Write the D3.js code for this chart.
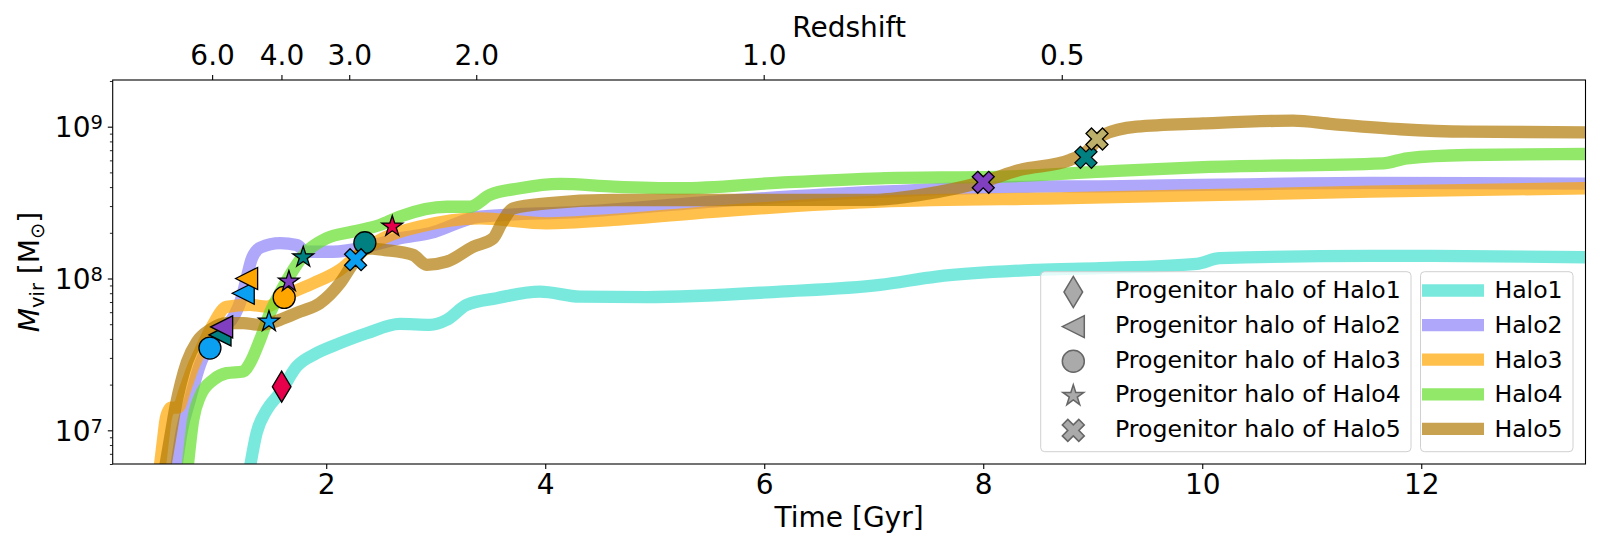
<!DOCTYPE html>
<html>
<head>
<meta charset="utf-8">
<script src="https://cdn.jsdelivr.net/npm/d3@7"></script>
<style>
body { margin: 0; background: #fff; }
text { font-family: "DejaVu Sans", sans-serif; fill: #000; }
</style>
</head>
<body>
<div id="chart"></div>
<script>
// Mass accretion histories: [time (Gyr), Mvir (Msun)]
const halo1 = [[1.29,5e6],[1.364,9.6e6],[1.456,1.36e7],[1.577,1.76e7],[1.73,2.63e7],[1.912,3.22e7],[2.125,3.75e7],[2.369,4.36e7],[2.673,5.02e7],[2.947,4.95e7],[3.10,5.34e7],[3.282,6.7e7],[3.556,7.42e7],[3.952,8.2e7],[4.317,7.6e7],[4.926,7.54e7],[6.143,8.2e7],[7.056,9.08e7],[7.574,1.03e8],[8.488,1.14e8],[9.066,1.17e8],[9.949,1.25e8],[10.16,1.36e8],[11.53,1.41e8],[12.11,1.41e8],[13.5,1.38e8]];
const halo2 = [[0.62,5e6],[0.682,1.0e7],[0.755,1.59e7],[0.847,2.7e7],[0.938,3.66e7],[1.047,4.59e7],[1.166,5.8e7],[1.215,7.0e7],[1.245,8.3e7],[1.275,1.02e8],[1.32,1.35e8],[1.40,1.6e8],[1.578,1.71e8],[1.73,1.66e8],[1.821,1.50e8],[2.064,1.50e8],[2.369,1.62e8],[2.673,1.84e8],[2.947,1.99e8],[3.404,2.56e8],[4.317,2.75e8],[5.532,3.21e8],[7.057,3.73e8],[8.488,4.03e8],[9.066,4.05e8],[11.53,4.26e8],[13.5,4.22e8]];
const halo3 = [[0.47,5e6],[0.509,8.6e6],[0.536,1.21e7],[0.582,1.41e7],[0.646,1.41e7],[0.71,1.85e7],[0.783,2.6e7],[0.847,3.3e7],[0.965,4.95e7],[1.09,6.5e7],[1.303,6.7e7],[1.456,6.53e7],[1.638,7.8e7],[1.881,9.3e7],[2.125,1.14e8],[2.308,1.47e8],[2.521,1.84e8],[2.856,2.2e8],[3.404,2.49e8],[4.013,2.31e8],[4.621,2.43e8],[5.532,2.75e8],[7.057,3.21e8],[8.792,3.38e8],[11.53,3.73e8],[13.5,3.93e8]];
const halo4 = [[0.727,5e6],[0.785,1.17e7],[0.847,1.67e7],[0.968,2.15e7],[1.09,2.38e7],[1.242,2.44e7],[1.303,2.77e7],[1.395,3.94e7],[1.486,5.91e7],[1.577,8.0e7],[1.699,1.14e8],[1.821,1.50e8],[2.004,1.84e8],[2.247,2.04e8],[2.49,2.25e8],[2.673,2.56e8],[3.10,2.97e8],[3.312,2.97e8],[3.495,3.55e8],[3.769,3.93e8],[4.134,4.2e8],[4.621,4.03e8],[5.23,3.93e8],[6.143,4.28e8],[7.057,4.57e8],[8.18,4.69e8],[9.093,5.06e8],[10.006,5.41e8],[11.65,5.74e8],[11.87,6.19e8],[12.42,6.51e8],[13.5,6.61e8]];
const halo5 = [[0.515,5e6],[0.582,9.6e6],[0.627,1.47e7],[0.673,2.06e7],[0.728,2.82e7],[0.819,3.83e7],[0.938,4.59e7],[1.09,5.08e7],[1.242,5.08e7],[1.395,4.95e7],[1.577,5.34e7],[1.76,6.05e7],[1.942,6.88e7],[2.125,9.3e7],[2.247,1.26e8],[2.369,1.58e8],[2.536,1.54e8],[2.792,1.43e8],[2.917,1.23e8],[3.10,1.29e8],[3.342,1.62e8],[3.525,1.84e8],[3.602,2.31e8],[3.708,2.9e8],[4.013,3.13e8],[4.621,3.29e8],[5.534,3.29e8],[7.0,3.3e8],[7.42,3.55e8],[8.0,4.35e8],[8.335,5.19e8],[8.792,6.04e8],[8.944,6.85e8],[9.093,8.82e8],[9.401,1.0e9],[10.006,1.05e9],[10.828,1.095e9],[11.19,1.04e9],[11.806,9.62e8],[12.417,9.27e8],[13.5,9.18e8]];

const haloNames = ['Halo1', 'Halo2', 'Halo3', 'Halo4', 'Halo5'];
const haloSeries = [halo1, halo2, halo3, halo4, halo5];

// Progenitor halos: [time (Gyr), Mvir (Msun), group id]
const prog1 = [[1.593,1.94e7,1]];
const prog2 = [[1.03,4.25e7,2],[1.045,4.8e7,3],[1.242,8.0e7,4],[1.273,1.0e8,5]];
const prog3 = [[0.938,3.48e7,4],[1.616,7.5e7,5],[2.353,1.72e8,2]];
const prog4 = [[1.477,5.2e7,4],[1.659,9.55e7,3],[1.79,1.38e8,2],[2.603,2.2e8,1]];
const prog5 = [[2.268,1.33e8,4],[8.0,4.3e8,3],[8.938,6.28e8,2],[9.039,8.3e8,6]];
const progSeries = [prog1, prog2, prog3, prog4, prog5];

// Axis ticks
const timeDomain = [0.05, 13.5];
const massDomain = [6e6, 2.03e9];
const timeTicks = [2, 4, 6, 8, 10, 12];
const massTicks = [1e7, 1e8, 1e9];
const redshiftLabels = ['6.0', '4.0', '3.0', '2.0', '1.0', '0.5'];
const redshiftTimes = [0.958, 1.591, 2.21, 3.37, 5.995, 8.717];

// Styles
const lineColors = ['#40E0D0', '#8D83F8', '#FFA500', '#63DE2A', '#B07A05'];
const groupColors = {1: '#E6004C', 2: '#008080', 3: '#7F3FBF', 4: '#0A9FF0', 5: '#FFA500', 6: '#BDB06B'};
const markerShapes = ['d', '<', 'o', '*', 'X'];
const markerSize = 22;

const margin = { top: 80, right: 14.5, bottom: 86, left: 112.7 };
const width = 1600 - margin.left - margin.right;
const height = 550 - margin.top - margin.bottom;

const svg = d3.select('#chart').append('svg')
    .attr('width', 1600)
    .attr('height', 550);
const g = svg.append('g')
    .attr('transform', `translate(${margin.left},${margin.top})`);

const x = d3.scaleLinear().domain(timeDomain).range([0, width]);
const y = d3.scaleLog().domain(massDomain).range([height, 0]);

// marker outlines, in the style of matplotlib's markers
function markerPath(shape, s) {
    const h = s / 2;
    if (shape === 'o') return d3.symbol(d3.symbolCircle, Math.PI * h * h)();
    if (shape === '<') return `M${-h},0L${h},${-h}L${h},${h}Z`;
    if (shape === 'd') {
        const a = s * Math.SQRT2 / 2, b = 0.6 * a;
        return `M0,${-a}L${b},0L0,${a}L${-b},0Z`;
    }
    if (shape === '*') {
        const pts = d3.range(10).map(k => {
            const r = k % 2 === 0 ? h : h * 0.381966;
            const ang = -Math.PI / 2 + k * Math.PI / 5;
            return [r * Math.cos(ang), r * Math.sin(ang)];
        });
        return 'M' + pts.map(p => p.join(',')).join('L') + 'Z';
    }
    // filled X
    const v = [[-1,-2],[0,-1],[1,-2],[2,-1],[1,0],[2,1],[1,2],[0,1],[-1,2],[-2,1],[-1,0],[-2,-1]];
    return 'M' + v.map(p => [p[0] * s / 4, p[1] * s / 4].join(',')).join('L') + 'Z';
}

// clip to the axes
svg.append('defs').append('clipPath').attr('id', 'plot-clip')
    .append('rect').attr('width', width).attr('height', height);

// Halo lines
const line = d3.line()
    .x(d => x(d[0]))
    .y(d => y(d[1]))
    .curve(d3.curveMonotoneX);

g.append('g').attr('clip-path', 'url(#plot-clip)')
    .selectAll('path')
    .data(haloSeries)
    .join('path')
    .attr('d', line)
    .attr('fill', 'none')
    .attr('stroke', (d, i) => lineColors[i])
    .attr('stroke-opacity', 0.7)
    .attr('stroke-width', 12.3)
    .attr('stroke-linejoin', 'round');

// Progenitor markers
const markers = g.append('g');
progSeries.forEach((arr, i) => {
    markers.selectAll(null)
        .data(arr)
        .join('path')
        .attr('d', markerPath(markerShapes[i], markerSize))
        .attr('transform', d => `translate(${x(d[0])},${y(d[1])})`)
        .attr('fill', d => groupColors[d[2]])
        .attr('stroke', '#000')
        .attr('stroke-width', 1.3)
        .attr('stroke-linejoin', 'miter');
});

// Axes
const fontSize = 28;
const styleAxis = sel => {
    sel.select('.domain').remove();
    sel.selectAll('.tick line').attr('stroke', '#000').attr('stroke-width', 1.1);
    sel.selectAll('.tick text')
        .attr('font-size', fontSize)
        .attr('font-family', '"DejaVu Sans", sans-serif');
};

g.append('g')
    .attr('transform', `translate(0,${height})`)
    .call(d3.axisBottom(x).tickValues(timeTicks).tickSize(4.9).tickPadding(4.9).tickFormat(d3.format('d')))
    .call(styleAxis);

g.append('g')
    .call(d3.axisTop(x).tickValues(redshiftTimes).tickSize(4.9).tickPadding(10)
        .tickFormat((d, i) => redshiftLabels[i]))
    .call(styleAxis);

const yAxis = g.append('g')
    .call(d3.axisLeft(y).tickValues(massTicks).tickSize(4.9).tickPadding(4.9).tickFormat(''))
    .call(styleAxis);
yAxis.selectAll('.tick text').each(function(d) {
    const t = d3.select(this).attr('dy', '0.36em');
    t.append('tspan').text('10');
    t.append('tspan').attr('font-size', 19.5).attr('dy', -8).text(Math.round(Math.log10(d)));
});

// minor log ticks
const minorTicks = [];
[1e6, 1e7, 1e8, 1e9].forEach(dec => {
    for (let k = 2; k <= 9; k++) {
        const v = k * dec;
        if (v >= massDomain[0] && v <= massDomain[1]) minorTicks.push(v);
    }
});
g.append('g')
    .call(d3.axisLeft(y).tickValues(minorTicks).tickSize(2.8).tickFormat(''))
    .call(sel => {
        sel.select('.domain').remove();
        sel.selectAll('.tick line').attr('stroke', '#000').attr('stroke-width', 0.85);
    });

// Spines
g.append('rect')
    .attr('width', width)
    .attr('height', height)
    .attr('fill', 'none')
    .attr('stroke', '#000')
    .attr('stroke-width', 1.1);

// Axis names
g.append('text')
    .attr('x', width / 2)
    .attr('y', height + 63)
    .attr('text-anchor', 'middle')
    .attr('font-size', fontSize)
    .text('Time [Gyr]');

g.append('text')
    .attr('x', width / 2)
    .attr('y', -43.3)
    .attr('text-anchor', 'middle')
    .attr('font-size', fontSize)
    .text('Redshift');

const ylab = g.append('text')
    .attr('transform', `translate(${39 - margin.left},${height / 2}) rotate(-90)`)
    .attr('text-anchor', 'middle')
    .attr('font-size', fontSize);
ylab.append('tspan').attr('font-style', 'italic').text('M');
ylab.append('tspan').attr('font-size', 19.5).attr('dy', 4.5).text('vir');
ylab.append('tspan').attr('dy', -4.5).text(' [M');
ylab.append('tspan').attr('font-size', 19.5).attr('dy', 4.5).text('\u2299');
ylab.append('tspan').attr('dy', -4.5).text(']');

// Legends (drawn in page coordinates)
const legendFont = 23.6;
const rowY = d3.range(5).map(i => 292 + 34.6 * i);

const leg1 = svg.append('g');
leg1.append('rect')
    .attr('x', 1040.7).attr('y', 271.7)
    .attr('width', 370.3).attr('height', 180)
    .attr('rx', 4)
    .attr('fill', '#fff').attr('fill-opacity', 0.8)
    .attr('stroke', '#d0d0d0').attr('stroke-width', 1);
leg1.selectAll('path')
    .data(haloNames)
    .join('path')
    .attr('d', (d, i) => markerPath(markerShapes[i], markerSize))
    .attr('transform', (d, i) => `translate(1073.3,${rowY[i]})`)
    .attr('fill', '#aaaaaa')
    .attr('stroke', '#666666')
    .attr('stroke-width', 1.5);
leg1.selectAll('text')
    .data(haloNames)
    .join('text')
    .attr('x', 1115)
    .attr('y', (d, i) => rowY[i] + 6.3)
    .attr('font-size', legendFont)
    .text(d => `Progenitor halo of ${d}`);

const leg2 = svg.append('g');
leg2.append('rect')
    .attr('x', 1420.5).attr('y', 271.7)
    .attr('width', 152.5).attr('height', 180)
    .attr('rx', 4)
    .attr('fill', '#fff').attr('fill-opacity', 0.8)
    .attr('stroke', '#d0d0d0').attr('stroke-width', 1);
leg2.selectAll('line')
    .data(haloNames)
    .join('line')
    .attr('x1', 1422).attr('x2', 1484)
    .attr('y1', (d, i) => rowY[i] - 1.5).attr('y2', (d, i) => rowY[i] - 1.5)
    .attr('stroke', (d, i) => lineColors[i])
    .attr('stroke-opacity', 0.7)
    .attr('stroke-width', 12.3);
leg2.selectAll('text')
    .data(haloNames)
    .join('text')
    .attr('x', 1494.4)
    .attr('y', (d, i) => rowY[i] + 6.3)
    .attr('font-size', legendFont)
    .text(d => d);
</script>
</body>
</html>
